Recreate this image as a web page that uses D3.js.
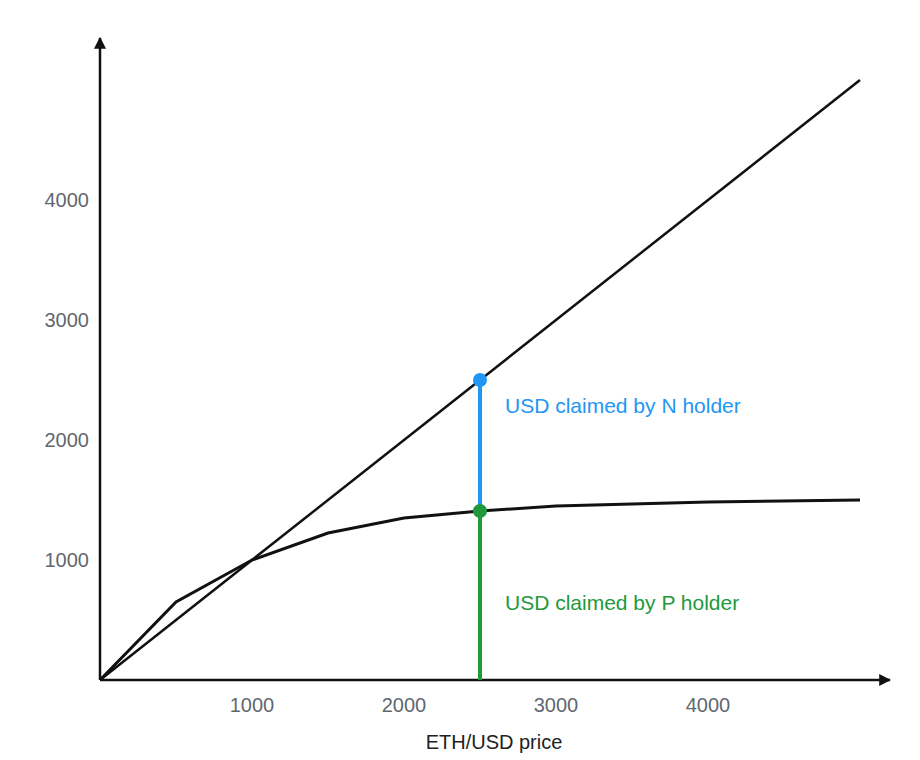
<!DOCTYPE html>
<html><head><meta charset="utf-8">
<script src="https://cdn.jsdelivr.net/npm/d3@7"></script>
<style>body{margin:0;background:#fff}</style></head>
<body><svg id="c" width="920" height="760"></svg>
<script>
const xTicks=[1000,2000,3000,4000];
const yTicks=[1000,2000,3000,4000];
const diagX=[0,5000];
const diagY=[0,5000];
const curveX=[0,500,1000,1500,2000,2500,3000,4000,5000];
const curveY=[0,650,1000,1225,1350,1408,1450,1483,1500];
const markX=2500, markN=2500, markP=1408;
const labelN="USD claimed by N holder", labelP="USD claimed by P holder", xTitle="ETH/USD price";

const svg=d3.select("#c");
const x=d3.scaleLinear().domain([0,5000]).range([100,860]);
const y=d3.scaleLinear().domain([0,5000]).range([680,80]);
const ink="#111";
svg.append("defs").append("marker").attr("id","ar").attr("viewBox","0 0 10 10").attr("refX",9).attr("refY",5)
 .attr("markerWidth",12).attr("markerHeight",12).attr("markerUnits","userSpaceOnUse").attr("orient","auto")
 .append("path").attr("d","M0,0L10,5L0,10z").attr("fill",ink);
svg.append("line").attr("x1",x(0)).attr("y1",y(0)).attr("x2",x(0)).attr("y2",38).attr("stroke",ink).attr("stroke-width",2.5).attr("marker-end","url(#ar)");
svg.append("line").attr("x1",x(0)).attr("y1",y(0)).attr("x2",890).attr("y2",y(0)).attr("stroke",ink).attr("stroke-width",2.5).attr("marker-end","url(#ar)");
const f="'Liberation Sans', Arial, sans-serif";
svg.selectAll(".xt").data(xTicks).enter().append("text").attr("x",d=>x(d)).attr("y",712).attr("text-anchor","middle")
 .attr("font-family",f).attr("font-size",20).attr("fill","#5f6770").text(d=>d);
svg.selectAll(".yt").data(yTicks).enter().append("text").attr("x",89).attr("y",d=>y(d)+7).attr("text-anchor","end")
 .attr("font-family",f).attr("font-size",20).attr("fill","#5f6770").text(d=>d);
svg.append("text").attr("x",494).attr("y",749).attr("text-anchor","middle").attr("font-family",f).attr("font-size",20).attr("fill","#222").text(xTitle);
const ln=d3.line().x(d=>x(d[0])).y(d=>y(d[1]));
svg.append("path").attr("d",ln(d3.zip(diagX,diagY))).attr("fill","none").attr("stroke",ink).attr("stroke-width",2.5);
svg.append("path").attr("d",ln(d3.zip(curveX,curveY))).attr("fill","none").attr("stroke",ink).attr("stroke-width",3);
const blue="#2196f3", green="#1e9a3c";
svg.append("line").attr("x1",x(markX)).attr("x2",x(markX)).attr("y1",y(markN)).attr("y2",y(markP)).attr("stroke",blue).attr("stroke-width",4);
svg.append("line").attr("x1",x(markX)).attr("x2",x(markX)).attr("y1",y(markP)).attr("y2",y(0)).attr("stroke",green).attr("stroke-width",4);
svg.append("circle").attr("cx",x(markX)).attr("cy",y(markN)).attr("r",7).attr("fill",blue);
svg.append("circle").attr("cx",x(markX)).attr("cy",y(markP)).attr("r",7).attr("fill",green);
svg.append("text").attr("x",505).attr("y",413).attr("font-family",f).attr("font-size",21).attr("fill",blue).text(labelN);
svg.append("text").attr("x",505).attr("y",610).attr("font-family",f).attr("font-size",21).attr("fill",green).text(labelP);
</script></body></html>
